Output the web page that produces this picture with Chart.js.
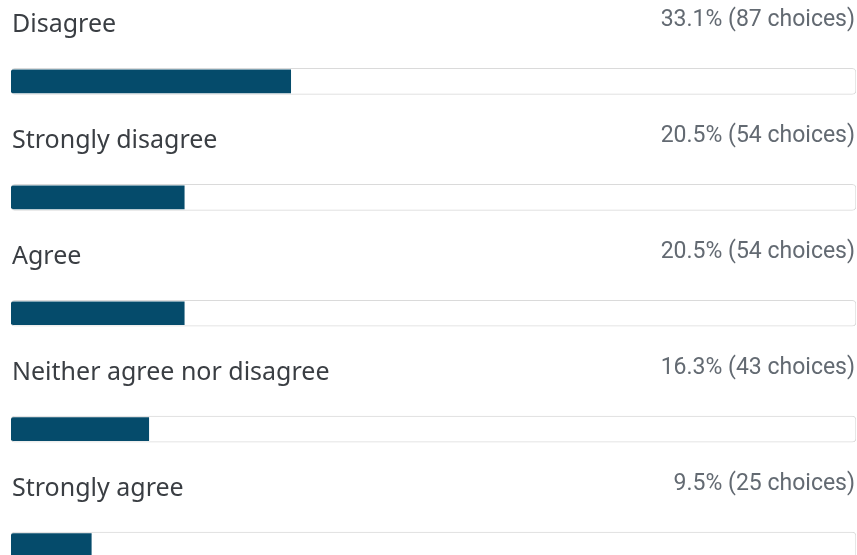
<!DOCTYPE html>
<html>
<head>
<meta charset="utf-8">
<script src="https://cdn.jsdelivr.net/npm/chart.js@4.4.1/dist/chart.umd.min.js"></script>
<style>
  html, body { margin: 0; padding: 0; background: #fff; overflow: hidden; }
  #wrap { position: relative; width: 857px; height: 640px; }
</style>
</head>
<body>
<div id="wrap"><canvas id="chart"></canvas></div>
<script>
// Survey answers, sorted as shown
const categories = ["Disagree", "Strongly disagree", "Agree", "Neither agree nor disagree", "Strongly agree"];
const percents = [33.1, 20.5, 20.5, 16.3, 9.5];
const counts = [87, 54, 54, 43, 25];
const trackValues = [100, 100, 100, 100, 100];

// Draw the answer text and the share above each bar
const labelPlugin = {
  id: "labels",
  afterDatasetsDraw(chart) {
    const ctx = chart.ctx;
    const y = chart.scales.y;
    ctx.save();
    ctx.textBaseline = "alphabetic";
    categories.forEach((name, i) => {
      const cy = y.getPixelForValue(i);
      ctx.font = "25px 'Noto Sans'";
      ctx.fillStyle = "#3a3e43";
      ctx.textAlign = "left";
      ctx.fillText(name, 12, cy - 49);
      ctx.font = "23px Roboto";
      ctx.fillStyle = "#636a72";
      ctx.textAlign = "right";
      ctx.fillText(`${percents[i]}% (${counts[i]} choices)`, 855, cy - 55);
    });
    ctx.restore();
  }
};

new Chart(document.getElementById("chart"), {
  type: "bar",
  data: {
    labels: categories,
    datasets: [
      {
        data: percents,
        backgroundColor: "#054b6b",
        borderWidth: 0,
        borderRadius: { topLeft: 3, bottomLeft: 3, topRight: 0, bottomRight: 0 },
        borderSkipped: false,
        barThickness: 23,
        grouped: false,
        order: 1
      },
      {
        data: trackValues,
        backgroundColor: "#ffffff",
        borderColor: "#dadada",
        borderWidth: 1,
        borderRadius: 4,
        borderSkipped: false,
        barThickness: 26,
        grouped: false,
        order: 2
      }
    ]
  },
  options: {
    indexAxis: "y",
    responsive: true,
    maintainAspectRatio: false,
    animation: false,
    layout: { padding: { top: 23.5, bottom: 37, left: 11, right: 1 } },
    scales: {
      x: { display: false, min: 0, max: 100 },
      y: { display: false }
    },
    plugins: {
      legend: { display: false },
      tooltip: { enabled: false }
    }
  },
  plugins: [labelPlugin]
});
</script>
</body>
</html>
